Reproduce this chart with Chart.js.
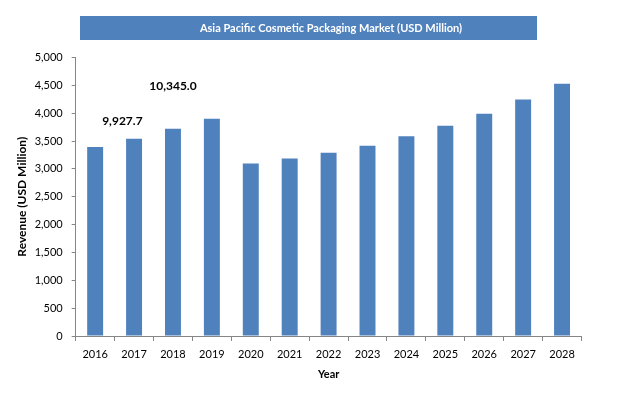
<!DOCTYPE html>
<html>
<head>
<meta charset="utf-8">
<script src="https://cdn.jsdelivr.net/npm/chart.js@4.4.0/dist/chart.umd.min.js"></script>
<style>
  body { margin: 0; background: #fff; }
  #wrap { width: 626px; height: 399px; }
</style>
</head>
<body>
<div id="wrap"><canvas id="chart" width="626" height="399"></canvas></div>
<script>
// data
const years = ['2016', '2017', '2018', '2019', '2020', '2021', '2022', '2023', '2024', '2025', '2026', '2027', '2028'];
const revenue = [3395, 3540, 3720, 3900, 3095, 3185, 3290, 3415, 3585, 3775, 3990, 4245, 4530];
const yTicks = [0, 500, 1000, 1500, 2000, 2500, 3000, 3500, 4000, 4500, 5000];

// the two loose totals floating over the first bars
const noteLabels = ['9,927.7', '10,345.0'];
const noteIndex = [0.7, 2];
const noteValue = [3850, 4490];

const chartTitle = 'Asia Pacific Cosmetic Packaging Market (USD Million)';
const barBlue = '#4F81BD';
const axisGrey = '#868686';

// title banner + the floating numbers
const decorations = {
    id: 'decorations',
    afterDraw(chart) {
        const ctx = chart.ctx;
        const x = chart.scales.x, y = chart.scales.y;
        ctx.save();
        ctx.fillStyle = barBlue;
        ctx.fillRect(80, 16, 457, 24);
        ctx.fillStyle = '#fff';
        ctx.font = 'bold 11px Lato';
        ctx.textAlign = 'center';
        ctx.textBaseline = 'middle';
        ctx.fillText(chartTitle, 331, 28);

        ctx.fillStyle = '#000';
        ctx.font = 'bold 12px Lato';
        noteLabels.forEach((txt, i) => {
            ctx.fillText(txt, x.getPixelForValue(noteIndex[i]), y.getPixelForValue(noteValue[i]));
        });
        ctx.restore();
    }
};

new Chart(document.getElementById('chart').getContext('2d'), {
    type: 'bar',
    data: {
        labels: years,
        datasets: [{
            label: 'Revenue',
            data: revenue,
            backgroundColor: barBlue,
            barPercentage: 0.41,
            categoryPercentage: 1
        }]
    },
    options: {
        responsive: false,
        animation: false,
        layout: { padding: { top: 57.5, right: 44.5, left: 0, bottom: 0 } },
        plugins: {
            legend: { display: false },
            tooltip: { enabled: false }
        },
        scales: {
            x: {
                grid: {
                    offset: true,
                    drawOnChartArea: false,
                    color: axisGrey,
                    tickLength: 5
                },
                border: { color: axisGrey },
                ticks: {
                    color: '#000',
                    padding: 6.4,
                    maxRotation: 0,
                    font: { family: 'Lato', size: 11 }
                },
                title: {
                    display: true,
                    text: 'Year',
                    color: '#000',
                    font: { family: 'Lato', size: 11, weight: 'bold' },
                    padding: { top: 0, bottom: 18.4 }
                },
                afterFit(scale) { scale.height = 63; }
            },
            y: {
                min: 0,
                max: 5000,
                afterBuildTicks(scale) {
                    scale.ticks = yTicks.map(v => ({ value: v }));
                },
                grid: {
                    drawOnChartArea: false,
                    color: axisGrey,
                    tickLength: 4
                },
                border: { color: axisGrey },
                ticks: {
                    color: '#000',
                    padding: 9,
                    font: { family: 'Lato', size: 11 },
                    callback: v => v.toLocaleString('en-US')
                },
                title: {
                    display: true,
                    text: 'Revenue (USD Million)',
                    color: '#000',
                    font: { family: 'Lato', size: 12, weight: 'bold' },
                    padding: { top: 14.8, bottom: 0 }
                },
                afterFit(scale) { scale.width = 75.7; }
            }
        }
    },
    plugins: [decorations]
});
</script>
</body>
</html>
